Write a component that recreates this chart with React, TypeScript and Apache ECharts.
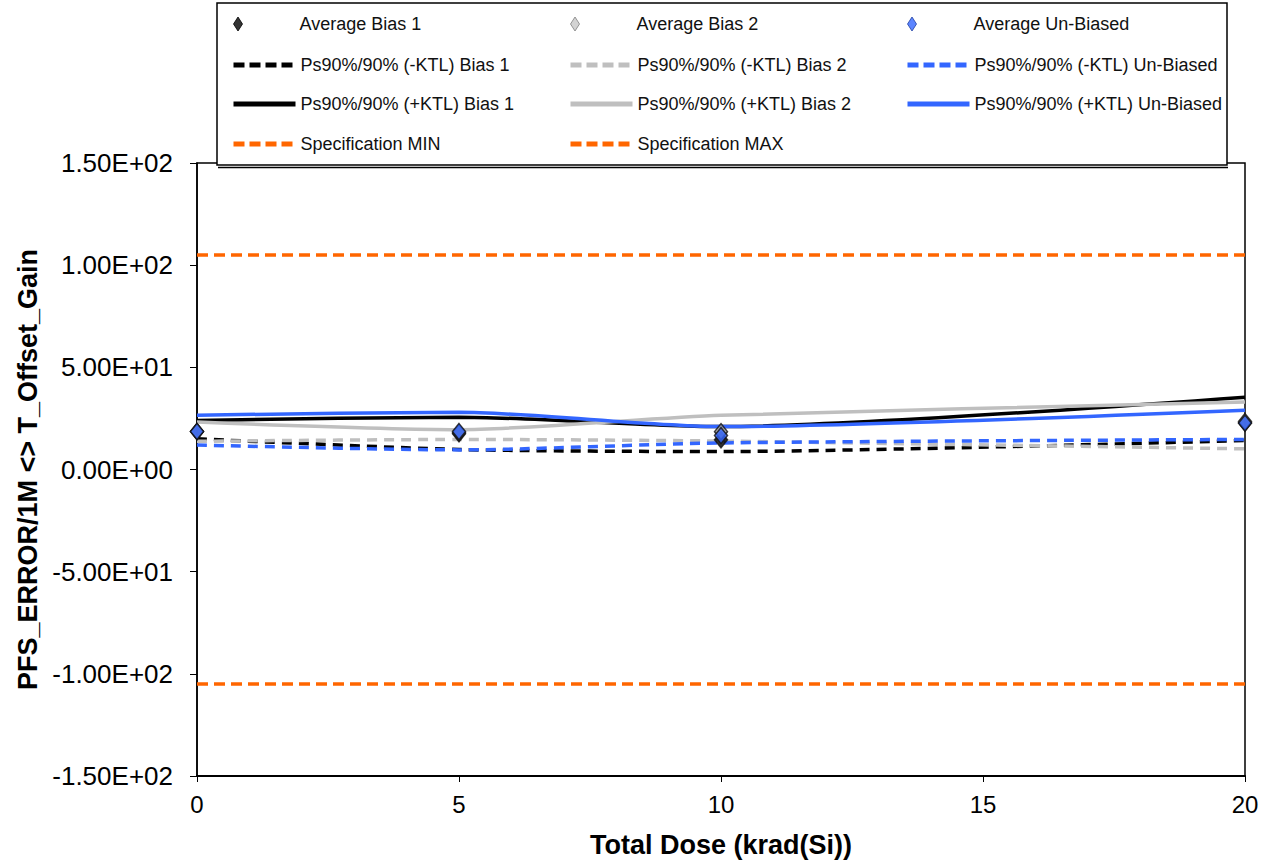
import React, { useEffect, useRef } from "react";
import * as echarts from "echarts";

// Total dose steps (krad(Si))
const dose = [0, 5, 10, 20];

// Averages per group
const avgBias1 = [18.6, 17.5, 14.5, 22.7];
const avgBias2 = [18.6, 18.0, 18.5, 23.5];
const avgUnbiased = [18.6, 18.6, 16.6, 22.7];

// Lower tolerance limits (-KTL)
const minusKtlBias1 = [15.0, 9.8, 8.8, 14.2];
const minusKtlBias2 = [13.8, 14.7, 13.9, 10.1];
const minusKtlUnbiased = [12.0, 9.6, 13.0, 14.7];

// Upper tolerance limits (+KTL)
const plusKtlBias1 = [24.0, 25.6, 21.0, 35.4];
const plusKtlBias2 = [23.2, 19.5, 26.5, 33.0];
const plusKtlUnbiased = [26.6, 28.0, 21.0, 29.0];

// Specification limits
const specMin = -105;
const specMax = 105;
const specX = [0, 20];

const yTicks = { min: -150, max: 150, interval: 50 };

const BLACK = "#000000";
const GRAY = "#BFBFBF";
const BLUE = "#3366FF";
const ORANGE = "#FF6600";
const FONT = "'Liberation Sans', Arial, sans-serif";

function sci(v: number): string {
  if (v === 0) return "0.00E+00";
  const e = Math.floor(Math.log10(Math.abs(v)) + 1e-9);
  const m = v / Math.pow(10, e);
  return m.toFixed(2) + "E" + (e < 0 ? "-" : "+") + String(Math.abs(e)).padStart(2, "0");
}

const pairs = (vals: number[]) => dose.map((d, i) => [d, vals[i]]);

export default function App() {
  const ref = useRef<HTMLDivElement>(null);

  useEffect(() => {
    if (!ref.current) return;
    const chart = echarts.init(ref.current, null, { renderer: "svg" });

    const lineSeries = (name: string, vals: number[], color: string, dashed: boolean) => ({
      name,
      type: "line",
      data: pairs(vals),
      symbol: "none",
      smooth: 0.25,
      lineStyle: { color, width: 3.5, type: dashed ? [10, 7] : "solid" },
      itemStyle: { color },
      z: 2,
    });

    const avgSeries = (name: string, vals: number[], fill: string) => ({
      name,
      type: "scatter",
      data: pairs(vals),
      symbol: "diamond",
      symbolSize: [13, 16],
      itemStyle: { color: fill, borderColor: "#111", borderWidth: 1.5 },
      z: 5,
    });

    const specSeries = (name: string, v: number) => ({
      name,
      type: "line",
      data: specX.map((x) => [x, v]),
      symbol: "none",
      lineStyle: { color: ORANGE, width: 3.5, type: [11, 6] },
      itemStyle: { color: ORANGE },
      z: 1,
    });

    const legendText = { fontFamily: FONT, fontSize: 18, color: "#111" };
    const colLeft = [231, 568, 905];
    const rowTop = [15, 56, 95, 135];

    const lineLegend = (name: string, col: number, row: number, dashed: boolean) => ({
      data: [{ name, itemStyle: { opacity: 0 } }],
      left: colLeft[col],
      top: rowTop[row],
      padding: 0,
      itemWidth: 62,
      itemHeight: 16,
      selectedMode: false,
      lineStyle: { width: 5, type: dashed ? [11, 5] : "solid" },
      textStyle: legendText,
    });

    const markLegend = (name: string, col: number, row: number, fill: string, border: string) => ({
      data: [{ name, icon: "diamond", itemStyle: { color: fill, borderColor: border, borderWidth: 1 } }],
      left: colLeft[col] + 2,
      top: rowTop[row],
      padding: 0,
      itemWidth: 9,
      itemHeight: 14,
      selectedMode: false,
      textStyle: { ...legendText, padding: [0, 0, 0, 52] },
    });

    chart.setOption({
      animation: false,
      backgroundColor: "#ffffff",
      textStyle: { fontFamily: FONT },
      grid: {
        left: 197,
        right: 25,
        top: 163,
        bottom: 89,
        show: true,
        borderColor: "#000",
        borderWidth: 1.5,
        backgroundColor: "transparent",
      },
      graphic: [
        {
          type: "rect",
          z: 0,
          shape: { x: 217, y: 3, width: 1010, height: 162 },
          style: { fill: "#fff", stroke: "#000", lineWidth: 1.5 },
        },
        {
          type: "line",
          z: 0,
          shape: { x1: 218, y1: 167.5, x2: 1228, y2: 167.5 },
          style: { stroke: "#000", lineWidth: 1.5 },
        },
      ],
      legend: [
        markLegend("Average Bias 1", 0, 0, BLACK, BLACK),
        markLegend("Average Bias 2", 1, 0, "#C8C8C8", "#808080"),
        markLegend("Average Un-Biased", 2, 0, BLUE, "#2040A0"),
        lineLegend("Ps90%/90% (-KTL) Bias 1", 0, 1, true),
        lineLegend("Ps90%/90% (-KTL) Bias 2", 1, 1, true),
        lineLegend("Ps90%/90% (-KTL) Un-Biased", 2, 1, true),
        lineLegend("Ps90%/90% (+KTL) Bias 1", 0, 2, false),
        lineLegend("Ps90%/90% (+KTL) Bias 2", 1, 2, false),
        lineLegend("Ps90%/90% (+KTL) Un-Biased", 2, 2, false),
        lineLegend("Specification MIN", 0, 3, true),
        lineLegend("Specification MAX", 1, 3, true),
      ],
      xAxis: {
        type: "value",
        min: 0,
        max: 20,
        interval: 5,
        name: "Total Dose (krad(Si))",
        nameLocation: "middle",
        nameGap: 55,
        nameTextStyle: { fontFamily: FONT, fontSize: 27, fontWeight: "bold", color: "#000" },
        axisLine: { show: true, onZero: false, lineStyle: { color: "#000", width: 2 } },
        axisTick: { show: true, length: 6, lineStyle: { color: "#000" } },
        axisLabel: { fontFamily: FONT, fontSize: 24, color: "#000", margin: 16 },
        splitLine: { show: false },
      },
      yAxis: {
        type: "value",
        min: yTicks.min,
        max: yTicks.max,
        interval: yTicks.interval,
        name: "PFS_ERROR/1M <> T_Offset_Gain",
        nameLocation: "middle",
        nameGap: 156,
        nameTextStyle: { fontFamily: FONT, fontSize: 27, fontWeight: "bold", color: "#000" },
        axisLine: { show: true, onZero: false, lineStyle: { color: "#000", width: 1.5 } },
        axisTick: { show: true, length: 7, lineStyle: { color: "#000" } },
        axisLabel: { fontFamily: FONT, fontSize: 26, color: "#000", margin: 24, formatter: (v: number) => sci(v) },
        splitLine: { show: false },
      },
      series: [
        specSeries("Specification MIN", specMin),
        specSeries("Specification MAX", specMax),
        lineSeries("Ps90%/90% (-KTL) Bias 1", minusKtlBias1, BLACK, true),
        lineSeries("Ps90%/90% (-KTL) Bias 2", minusKtlBias2, GRAY, true),
        lineSeries("Ps90%/90% (-KTL) Un-Biased", minusKtlUnbiased, BLUE, true),
        lineSeries("Ps90%/90% (+KTL) Bias 1", plusKtlBias1, BLACK, false),
        lineSeries("Ps90%/90% (+KTL) Bias 2", plusKtlBias2, GRAY, false),
        lineSeries("Ps90%/90% (+KTL) Un-Biased", plusKtlUnbiased, BLUE, false),
        avgSeries("Average Bias 1", avgBias1, BLACK),
        avgSeries("Average Bias 2", avgBias2, "#A0A0A0"),
        avgSeries("Average Un-Biased", avgUnbiased, BLUE),
      ],
    });

    return () => chart.dispose();
  }, []);

  return <div ref={ref} style={{ width: 1270, height: 865, position: "absolute", left: 0, top: 0 }} />;
}
